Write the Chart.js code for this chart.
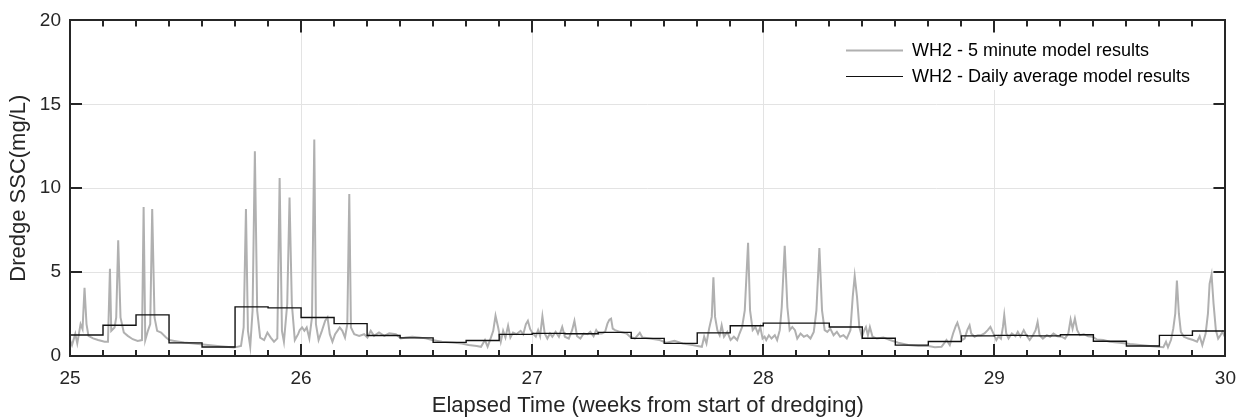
<!DOCTYPE html>
<html>
<head>
<meta charset="utf-8">
<script src="https://cdn.jsdelivr.net/npm/chart.js@4.4.1/dist/chart.umd.min.js"></script>
<style>
  html, body { margin: 0; padding: 0; background: #fff; }
  #wrap { width: 1247px; height: 417px; }
</style>
</head>
<body>
<div id="wrap"><canvas id="ssc" width="1247" height="417"></canvas></div>
<script>
// weeks shown on the x axis, day boundaries give the minor ticks
const weekTicks = [25, 26, 27, 28, 29, 30];
const sscTicks = [0, 5, 10, 15, 20];
const startWeek = 25;

// daily average SSC (mg/L), one value per day from week 25
const dailyAvg = [1.25, 1.83, 2.45, 0.78, 0.54, 2.93, 2.87,
                  2.29, 1.93, 1.22, 1.08, 0.81, 0.92, 1.29,
                  1.35, 1.33, 1.41, 1.05, 0.75, 1.38, 1.80,
                  1.96, 1.96, 1.73, 1.06, 0.65, 0.86, 1.20,
                  1.23, 1.20, 1.27, 0.88, 0.60, 1.23, 1.49];

// 5 minute model output, [days since week 25, SSC mg/L]
const fiveMinute = [
  [0.00,0.95],[0.06,0.65],[0.16,1.32],[0.22,0.75],[0.32,1.9],[0.38,1.6],[0.44,4.06],[0.50,1.9],
  [0.56,1.2],[0.70,1.05],[0.85,0.95],[1.05,0.85],[1.15,0.85],[1.21,5.2],[1.25,1.5],[1.35,1.7],
  [1.40,2.3],[1.46,6.9],[1.53,2.3],[1.63,1.4],[1.75,1.2],[1.90,1.0],[2.05,0.9],[2.18,0.95],
  [2.23,8.88],[2.28,0.95],[2.36,1.5],[2.43,1.9],[2.49,8.76],[2.56,2.3],[2.64,1.5],[2.76,1.4],
  [2.91,1.1],[3.01,0.95],[3.16,0.9],[3.46,0.8],[3.96,0.7],[4.47,0.6],[4.97,0.5],[5.18,0.6],
  [5.26,1.7],[5.33,8.76],[5.39,1.5],[5.46,0.55],[5.53,2.7],[5.60,12.2],[5.67,2.7],[5.76,1.1],
  [5.88,0.95],[5.98,1.4],[6.08,1.1],[6.18,0.85],[6.28,1.05],[6.35,10.6],[6.42,1.5],[6.48,0.85],
  [6.58,3.1],[6.65,9.45],[6.72,3.1],[6.81,0.95],[6.91,1.3],[6.96,1.55],[7.03,1.7],[7.10,1.5],
  [7.17,1.7],[7.25,1.05],[7.33,2.3],[7.40,12.9],[7.45,1.9],[7.53,0.95],[7.63,1.5],[7.73,2.1],
  [7.80,2.3],[7.87,1.3],[7.95,0.85],[8.03,1.3],[8.10,1.5],[8.17,1.7],[8.25,1.5],[8.33,1.1],
  [8.40,1.9],[8.46,9.65],[8.51,1.7],[8.61,1.3],[8.76,1.2],[8.91,1.3],[9.01,1.1],[9.11,1.5],
  [9.21,1.2],[9.36,1.4],[9.52,1.2],[9.67,1.35],[9.87,1.3],[10.02,1.05],[10.17,1.1],[10.37,1.15],
  [10.57,1.1],[10.77,1.05],[10.97,0.95],[11.27,0.85],[11.57,0.8],[11.87,0.75],[12.07,0.65],[12.32,0.6],
  [12.45,0.55],[12.57,0.95],[12.65,0.55],[12.75,1.1],[12.82,1.5],[12.89,2.4],[12.97,1.7],[13.05,0.85],
  [13.12,1.5],[13.19,1.1],[13.27,1.8],[13.34,1.1],[13.42,1.4],[13.52,1.3],[13.65,1.5],[13.73,1.3],
  [13.81,1.9],[13.87,2.1],[13.94,1.6],[14.02,1.34],[14.11,1.15],[14.18,1.54],[14.24,1.18],[14.31,2.37],
  [14.38,1.34],[14.46,1.04],[14.54,1.34],[14.61,1.15],[14.71,1.44],[14.81,1.15],[14.91,1.73],[14.99,1.15],
  [15.11,1.04],[15.21,1.54],[15.28,2.09],[15.36,1.18],[15.46,1.04],[15.56,1.34],[15.68,1.30],[15.76,1.44],
  [15.86,1.18],[15.94,1.54],[16.01,1.34],[16.11,1.34],[16.21,1.44],[16.28,1.93],[16.34,2.17],[16.39,2.23],
  [16.44,1.63],[16.51,1.54],[16.66,1.44],[16.86,1.34],[16.96,1.15],[17.11,1.04],[17.26,1.38],[17.34,1.10],
  [17.56,1.04],[17.86,0.95],[18.06,0.79],[18.31,0.9],[18.56,0.75],[18.86,0.65],[19.01,0.6],[19.14,0.55],
  [19.21,1.15],[19.28,0.75],[19.36,1.63],[19.44,2.33],[19.49,4.69],[19.54,2.33],[19.61,1.54],[19.68,1.24],
  [19.74,1.83],[19.81,1.15],[19.91,1.44],[20.01,0.95],[20.11,1.15],[20.21,0.95],[20.28,1.34],[20.36,1.73],
  [20.44,2.72],[20.54,6.74],[20.60,2.72],[20.68,1.54],[20.76,1.73],[20.84,1.34],[20.91,1.73],[20.98,1.04],
  [21.04,1.15],[21.09,0.95],[21.17,1.24],[21.25,1.04],[21.35,1.24],[21.42,0.95],[21.50,1.54],[21.56,2.92],
  [21.65,6.57],[21.73,2.92],[21.80,1.54],[21.88,1.73],[21.96,1.54],[22.03,1.04],[22.13,1.34],[22.23,1.15],
  [22.33,1.24],[22.43,1.04],[22.53,1.44],[22.61,2.72],[22.70,6.43],[22.78,2.72],[22.86,1.54],[22.94,1.44],
  [23.03,1.63],[23.13,1.24],[23.23,1.44],[23.33,1.15],[23.43,1.24],[23.53,1.04],[23.64,1.54],[23.71,3.52],
  [23.77,4.77],[23.84,3.52],[23.91,1.73],[23.99,1.15],[24.06,1.54],[24.11,1.73],[24.17,1.24],[24.23,1.73],
  [24.31,1.15],[24.44,1.04],[24.64,1.10],[24.84,0.95],[25.09,0.79],[25.39,0.65],[25.70,0.6],[26.00,0.6],
  [26.20,0.52],[26.40,0.55],[26.55,0.95],[26.65,0.65],[26.75,1.34],[26.83,1.78],[26.88,1.98],[26.95,1.54],
  [27.02,0.95],[27.10,1.04],[27.18,1.54],[27.25,1.83],[27.30,1.34],[27.40,1.15],[27.50,1.24],[27.60,1.24],
  [27.70,1.34],[27.80,1.54],[27.88,1.73],[27.95,1.44],[28.06,0.95],[28.13,1.18],[28.20,1.04],[28.26,1.73],
  [28.30,2.43],[28.36,1.34],[28.43,1.04],[28.53,1.34],[28.64,1.18],[28.71,1.44],[28.79,1.15],[28.89,1.54],
  [28.97,1.24],[29.07,0.95],[29.17,1.24],[29.25,1.54],[29.31,2.03],[29.37,1.24],[29.47,1.04],[29.59,1.24],
  [29.69,1.15],[29.79,1.34],[29.91,1.18],[30.04,1.15],[30.14,1.04],[30.24,1.34],[30.31,2.17],[30.37,1.63],
  [30.44,2.23],[30.51,1.54],[30.59,1.24],[30.71,1.30],[30.84,1.18],[30.97,1.15],[31.10,0.99],[31.30,0.95],
  [31.50,0.85],[31.80,0.79],[32.11,0.71],[32.41,0.65],[32.71,0.6],[32.96,0.55],[33.12,0.52],[33.20,0.85],
  [33.26,0.52],[33.35,0.95],[33.42,1.63],[33.48,2.52],[33.53,4.50],[33.59,2.52],[33.65,1.44],[33.74,1.15],
  [33.87,1.04],[34.02,0.95],[34.14,0.85],[34.22,1.18],[34.30,0.65],[34.40,1.34],[34.47,2.52],[34.52,4.30],
  [34.58,4.85],[34.64,3.12],[34.71,1.54],[34.78,1.04],[34.85,1.24],[34.91,1.44],[34.98,1.15],[35.00,1.2]
];

const labels5min = 'WH2 - 5 minute model results';
const labelDaily = 'WH2 - Daily average model results';

const FONT = '"Liberation Sans", Arial, Helvetica, sans-serif';
const AXIS_COLOR = '#262626';

// points in weeks
const fiveMinPts = fiveMinute.map(p => ({ x: startWeek + p[0] / 7, y: p[1] }));
const dailyPts = dailyAvg.map((v, i) => ({ x: startWeek + i / 7, y: v }));
dailyPts.push({ x: startWeek + dailyAvg.length / 7, y: dailyAvg[dailyAvg.length - 1] });

// box round the axes with inward ticks on all sides (matlab look)
const axesBox = {
  id: 'axesBox',
  afterDraw(chart) {
    const { ctx, chartArea: a, scales: { x, y } } = chart;
    ctx.save();
    ctx.strokeStyle = AXIS_COLOR;
    ctx.lineWidth = 2;
    ctx.beginPath();
    const nDays = (weekTicks[weekTicks.length - 1] - weekTicks[0]) * 7;
    for (let d = 0; d <= nDays; d++) {
      const px = Math.round(x.getPixelForValue(weekTicks[0] + d / 7));
      const len = d % 7 === 0 ? 12 : 6;
      ctx.moveTo(px, a.bottom); ctx.lineTo(px, a.bottom - len);
      ctx.moveTo(px, a.top); ctx.lineTo(px, a.top + len);
    }
    sscTicks.forEach(v => {
      const py = Math.round(y.getPixelForValue(v));
      ctx.moveTo(a.left, py); ctx.lineTo(a.left + 12, py);
      ctx.moveTo(a.right, py); ctx.lineTo(a.right - 12, py);
    });
    ctx.stroke();
    ctx.strokeRect(Math.round(a.left), Math.round(a.top), Math.round(a.width), Math.round(a.height));
    ctx.restore();
  }
};

// legend inside the axes, top right, white background over the grid
const insideLegend = {
  id: 'insideLegend',
  afterDatasetsDraw(chart) {
    const { ctx } = chart;
    ctx.save();
    ctx.fillStyle = '#fff';
    ctx.fillRect(840, 22, 375, 68);
    const items = [chart.data.datasets[0], chart.data.datasets[1]];
    ctx.font = '18px ' + FONT;
    ctx.textBaseline = 'middle';
    ctx.textAlign = 'left';
    items.forEach((ds, i) => {
      const yy = 50 + i * 26;
      ctx.strokeStyle = ds.borderColor;
      ctx.lineWidth = ds.borderWidth > 1.5 ? ds.borderWidth : 1;
      ctx.beginPath();
      ctx.moveTo(846, yy + 0.5); ctx.lineTo(903, yy + 0.5);
      ctx.stroke();
      ctx.fillStyle = '#000';
      ctx.fillText(ds.label, 912, yy + 1);
    });
    ctx.restore();
  }
};

new Chart(document.getElementById('ssc'), {
  type: 'line',
  data: {
    datasets: [
      {
        label: labels5min,
        data: fiveMinPts,
        borderColor: '#b0b0b0',
        borderWidth: 2,
        pointRadius: 0,
        tension: 0,
        order: 2
      },
      {
        label: labelDaily,
        data: dailyPts,
        borderColor: '#111',
        borderWidth: 1.4,
        pointRadius: 0,
        // each day's value holds until the next day starts
        stepped: 'before',
        order: 1
      }
    ]
  },
  options: {
    responsive: false,
    animation: false,
    layout: { padding: { top: 18, right: 19, left: 0, bottom: 0 } },
    plugins: {
      legend: { display: false },
      tooltip: { enabled: false }
    },
    scales: {
      x: {
        type: 'linear',
        min: weekTicks[0],
        max: weekTicks[weekTicks.length - 1],
        afterBuildTicks: s => { s.ticks = weekTicks.map(v => ({ value: v })); },
        afterFit: s => { s.height = 61; },
        border: { display: false },
        grid: { color: '#e3e3e3', lineWidth: 1, drawTicks: false },
        ticks: {
          color: AXIS_COLOR,
          font: { family: FONT, size: 19 },
          padding: 11,
          maxRotation: 0,
          callback: v => String(v)
        },
        title: {
          display: true,
          text: 'Elapsed Time (weeks from start of dredging)',
          color: AXIS_COLOR,
          font: { family: FONT, size: 22, lineHeight: 1 },
          padding: { top: 0, bottom: 0 }
        }
      },
      y: {
        min: sscTicks[0],
        max: sscTicks[sscTicks.length - 1],
        afterBuildTicks: s => { s.ticks = sscTicks.map(v => ({ value: v })); },
        afterFit: s => { s.width = 70; },
        border: { display: false },
        grid: { color: '#e3e3e3', lineWidth: 1, drawTicks: false },
        ticks: {
          color: AXIS_COLOR,
          font: { family: FONT, size: 19 },
          padding: 9,
          callback: v => String(v)
        },
        title: {
          display: true,
          text: 'Dredge SSC(mg/L)',
          color: AXIS_COLOR,
          font: { family: FONT, size: 22, lineHeight: 1 },
          padding: { top: 8, bottom: 0 }
        }
      }
    }
  },
  plugins: [insideLegend, axesBox]
});
</script>
</body>
</html>
